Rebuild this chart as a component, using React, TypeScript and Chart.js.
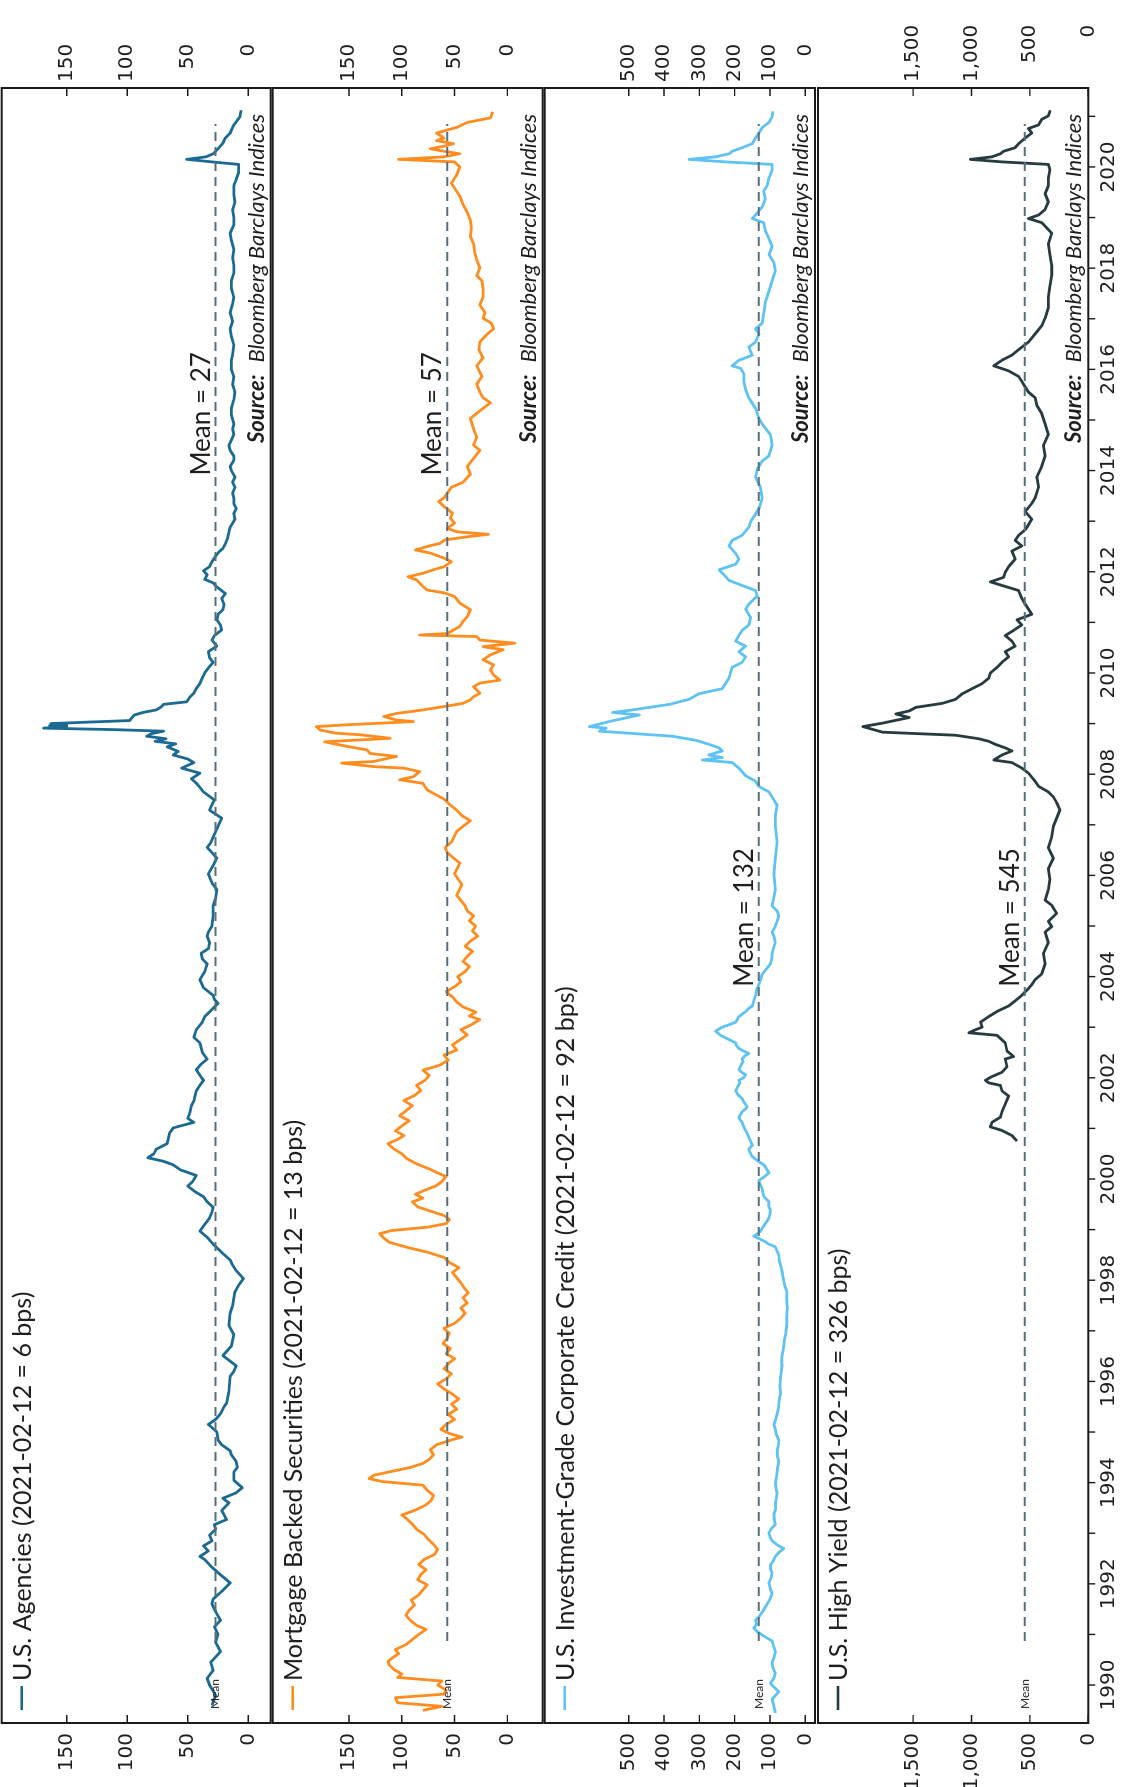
import React, { useEffect, useRef } from "react";
import { Chart, registerables } from "chart.js";

Chart.register(...registerables);

// ---------- DATA (year, spread in bps) ----------
const agencies: [number, number][] = [
  [1989.6, 30], [1989.8, 27], [1990.0, 32], [1990.13, 34], [1990.29, 29], [1990.45, 31], [1990.66, 23], [1990.85, 27],
  [1991.0, 25], [1991.15, 28], [1991.28, 23], [1991.45, 27], [1991.6, 30], [1991.7, 29], [1991.85, 22], [1992.02, 15],
  [1992.2, 24], [1992.35, 31], [1992.48, 36], [1992.54, 40], [1992.65, 33], [1992.75, 37], [1992.85, 30], [1992.96, 32],
  [1993.08, 27], [1993.17, 28], [1993.27, 18], [1993.45, 22], [1993.6, 16], [1993.69, 21], [1993.8, 10], [1993.9, 5],
  [1994.05, 12], [1994.21, 12], [1994.3, 9], [1994.42, 10], [1994.55, 14], [1994.63, 15], [1994.75, 22], [1994.84, 25],
  [1995.0, 26], [1995.15, 33], [1995.25, 27], [1995.36, 23], [1995.5, 20], [1995.57, 18], [1995.8, 16], [1996.1, 15],
  [1996.2, 12], [1996.31, 10], [1996.42, 16], [1996.51, 21], [1996.7, 14], [1996.93, 12], [1997.1, 16], [1997.35, 15],
  [1997.5, 13], [1997.77, 11], [1997.9, 8], [1998.03, 4], [1998.19, 10], [1998.3, 13], [1998.4, 15], [1998.55, 22],
  [1998.71, 29], [1998.85, 34], [1998.97, 40], [1999.1, 36], [1999.23, 32], [1999.35, 30], [1999.44, 29], [1999.55, 34],
  [1999.65, 37], [1999.75, 44], [1999.86, 50], [1999.95, 46], [2000.07, 43], [2000.18, 56], [2000.28, 62], [2000.35, 70],
  [2000.42, 83], [2000.5, 78], [2000.59, 76], [2000.7, 67], [2000.8, 66], [2000.91, 65], [2001.01, 62], [2001.12, 45],
  [2001.2, 50], [2001.33, 48], [2001.45, 47], [2001.54, 45], [2001.65, 44], [2001.74, 43], [2001.85, 40], [2001.95, 37],
  [2002.05, 40], [2002.16, 43], [2002.27, 39], [2002.37, 34], [2002.5, 38], [2002.69, 40], [2002.8, 45], [2002.95, 43],
  [2003.1, 38], [2003.21, 36], [2003.35, 30], [2003.47, 25], [2003.55, 28], [2003.63, 29], [2003.78, 37], [2003.94, 40],
  [2004.1, 36], [2004.25, 34], [2004.35, 38], [2004.46, 39], [2004.55, 33], [2004.67, 32], [2004.8, 34], [2004.88, 33],
  [2005.0, 30], [2005.2, 29], [2005.4, 29], [2005.55, 27], [2005.72, 26], [2005.85, 30], [2006.03, 33], [2006.2, 29],
  [2006.34, 26], [2006.45, 30], [2006.55, 34], [2006.65, 31], [2006.76, 29], [2006.97, 25], [2007.13, 22], [2007.29, 32],
  [2007.4, 30], [2007.49, 28], [2007.65, 37], [2007.8, 42], [2007.91, 47], [2008.02, 40], [2008.12, 55], [2008.23, 45],
  [2008.3, 50], [2008.38, 62], [2008.45, 58], [2008.54, 67], [2008.6, 60], [2008.65, 77], [2008.7, 68], [2008.75, 84],
  [2008.8, 80], [2008.85, 70], [2008.88, 110], [2008.91, 169], [2008.94, 150], [2008.96, 164], [2008.98, 150], [2009.0, 163],
  [2009.02, 142], [2009.06, 98], [2009.12, 96], [2009.17, 94], [2009.22, 87], [2009.27, 76], [2009.33, 72], [2009.38, 70],
  [2009.43, 51], [2009.53, 48], [2009.6, 45], [2009.69, 43], [2009.79, 40], [2009.9, 38], [2010.0, 36], [2010.1, 33],
  [2010.21, 29], [2010.3, 32], [2010.42, 33], [2010.53, 26], [2010.65, 30], [2010.74, 28], [2010.85, 22], [2010.95, 23],
  [2011.05, 26], [2011.16, 25], [2011.25, 21], [2011.36, 20], [2011.47, 22], [2011.57, 19], [2011.7, 26], [2011.78, 29],
  [2011.85, 36], [2011.94, 34], [2012.02, 37], [2012.1, 32], [2012.2, 30], [2012.31, 27], [2012.4, 24], [2012.46, 21],
  [2012.55, 19], [2012.67, 17], [2012.78, 16], [2012.88, 15], [2013.04, 11], [2013.15, 12], [2013.25, 10], [2013.35, 12],
  [2013.46, 12], [2013.55, 13], [2013.67, 11], [2013.77, 13], [2013.87, 11], [2014.0, 14], [2014.08, 15], [2014.2, 12],
  [2014.29, 12], [2014.4, 15], [2014.5, 16], [2014.6, 14], [2014.71, 12], [2014.82, 13], [2014.92, 12], [2015.1, 14],
  [2015.23, 14], [2015.4, 12], [2015.55, 11], [2015.7, 13], [2015.86, 12], [2016.0, 14], [2016.18, 14], [2016.3, 13],
  [2016.49, 12], [2016.65, 14], [2016.8, 15], [2016.95, 13], [2017.12, 15], [2017.3, 13], [2017.43, 12], [2017.6, 14],
  [2017.75, 14], [2017.9, 12], [2018.06, 12], [2018.2, 13], [2018.37, 12], [2018.55, 14], [2018.69, 15], [2018.85, 12],
  [2019.0, 12], [2019.15, 13], [2019.31, 11], [2019.45, 12], [2019.63, 12], [2019.75, 10], [2019.89, 8], [2020.05, 8],
  [2020.1, 30], [2020.15, 51], [2020.2, 35], [2020.26, 29], [2020.36, 25], [2020.47, 21], [2020.57, 19], [2020.67, 15],
  [2020.83, 12], [2020.99, 7], [2021.12, 6],
];

const mbs: [number, number][] = [
  [1989.5, 80], [1989.58, 62], [1989.65, 104], [1989.75, 106], [1989.82, 60], [1989.9, 58], [1990.0, 66], [1990.08, 62],
  [1990.15, 104], [1990.22, 100], [1990.3, 107], [1990.4, 112], [1990.47, 113], [1990.55, 108], [1990.62, 103], [1990.7, 106],
  [1990.8, 96], [1990.9, 90], [1991.0, 84], [1991.1, 77], [1991.18, 86], [1991.28, 92], [1991.38, 96], [1991.48, 93],
  [1991.58, 88], [1991.68, 91], [1991.78, 84], [1991.88, 80], [1991.98, 76], [1992.08, 85], [1992.18, 82], [1992.28, 77],
  [1992.38, 84], [1992.48, 79], [1992.58, 69], [1992.68, 66], [1992.78, 70], [1992.88, 75], [1992.98, 79], [1993.08, 86],
  [1993.18, 90], [1993.28, 95], [1993.36, 100], [1993.45, 88], [1993.55, 78], [1993.65, 72], [1993.75, 70], [1993.85, 76],
  [1993.95, 80], [1994.02, 118], [1994.08, 131], [1994.15, 126], [1994.22, 110], [1994.3, 92], [1994.38, 80], [1994.46, 74],
  [1994.55, 70], [1994.65, 73], [1994.75, 67], [1994.85, 52], [1994.9, 43], [1994.97, 55], [1995.05, 63], [1995.15, 58],
  [1995.25, 50], [1995.35, 56], [1995.45, 48], [1995.55, 53], [1995.65, 46], [1995.75, 52], [1995.85, 60], [1995.95, 66],
  [1996.05, 58], [1996.15, 53], [1996.25, 60], [1996.35, 56], [1996.45, 50], [1996.55, 58], [1996.65, 54], [1996.75, 61],
  [1996.85, 57], [1996.95, 55], [1997.05, 60], [1997.15, 50], [1997.25, 44], [1997.35, 40], [1997.45, 44], [1997.55, 38],
  [1997.65, 42], [1997.75, 37], [1997.85, 41], [1997.95, 44], [1998.05, 48], [1998.15, 52], [1998.25, 46], [1998.35, 55],
  [1998.45, 60], [1998.55, 75], [1998.65, 95], [1998.75, 112], [1998.85, 118], [1998.92, 121], [1998.98, 110], [1999.05, 75],
  [1999.12, 58], [1999.2, 55], [1999.28, 60], [1999.36, 72], [1999.45, 85], [1999.55, 90], [1999.62, 80], [1999.7, 87],
  [1999.78, 78], [1999.86, 68], [1999.95, 62], [2000.05, 58], [2000.12, 66], [2000.2, 74], [2000.3, 86], [2000.4, 95],
  [2000.5, 100], [2000.6, 108], [2000.7, 113], [2000.78, 104], [2000.86, 98], [2000.95, 106], [2001.05, 100], [2001.15, 93],
  [2001.25, 102], [2001.35, 96], [2001.45, 90], [2001.55, 98], [2001.65, 88], [2001.75, 82], [2001.85, 86], [2001.95, 78],
  [2002.05, 74], [2002.15, 80], [2002.25, 64], [2002.35, 56], [2002.45, 60], [2002.55, 48], [2002.65, 52], [2002.75, 45],
  [2002.85, 38], [2002.95, 44], [2003.05, 34], [2003.15, 26], [2003.22, 36], [2003.3, 30], [2003.4, 42], [2003.5, 48],
  [2003.6, 52], [2003.7, 58], [2003.8, 50], [2003.9, 44], [2004.0, 47], [2004.1, 40], [2004.2, 36], [2004.3, 42],
  [2004.4, 38], [2004.5, 33], [2004.6, 40], [2004.7, 35], [2004.8, 28], [2004.9, 33], [2005.0, 30], [2005.1, 36],
  [2005.2, 32], [2005.3, 38], [2005.4, 40], [2005.61, 48], [2005.82, 43], [2006.03, 50], [2006.24, 45], [2006.45, 57],
  [2006.55, 59], [2006.66, 53], [2006.87, 48], [2006.97, 42], [2007.08, 35], [2007.18, 43], [2007.29, 48], [2007.39, 54],
  [2007.49, 59], [2007.52, 61], [2007.69, 76], [2007.82, 80], [2007.89, 102], [2007.95, 89], [2008.05, 83], [2008.12, 98],
  [2008.15, 127], [2008.22, 157], [2008.25, 127], [2008.35, 105], [2008.41, 130], [2008.48, 133], [2008.55, 152], [2008.64, 173],
  [2008.71, 111], [2008.78, 140], [2008.81, 162], [2008.87, 177], [2008.94, 181], [2008.97, 158], [2009.04, 89], [2009.07, 105],
  [2009.14, 117], [2009.2, 105], [2009.27, 80], [2009.34, 59], [2009.4, 42], [2009.47, 35], [2009.53, 32], [2009.6, 26],
  [2009.73, 32], [2009.8, 26], [2009.86, 7], [2009.96, 13], [2010.06, 16], [2010.16, 13], [2010.26, 23], [2010.36, 16],
  [2010.46, 4], [2010.52, 23], [2010.59, -7], [2010.65, 26], [2010.72, 29], [2010.75, 83], [2010.78, 57], [2010.85, 51],
  [2010.92, 45], [2011.02, 42], [2011.11, 38], [2011.25, 35], [2011.38, 45], [2011.51, 50], [2011.58, 59], [2011.64, 76],
  [2011.71, 80], [2011.84, 86], [2011.9, 94], [2011.97, 80], [2012.04, 70], [2012.1, 60], [2012.2, 53], [2012.27, 60],
  [2012.37, 73], [2012.43, 87], [2012.5, 76], [2012.56, 64], [2012.63, 59], [2012.7, 35], [2012.74, 18], [2012.79, 48],
  [2012.86, 57], [2012.96, 50], [2013.06, 54], [2013.16, 52], [2013.29, 60], [2013.39, 65], [2013.46, 60], [2013.67, 53],
  [2013.77, 42], [2013.93, 35], [2014.08, 38], [2014.24, 32], [2014.4, 26], [2014.5, 32], [2014.66, 29], [2014.82, 32],
  [2015.03, 35], [2015.23, 23], [2015.34, 16], [2015.44, 23], [2015.55, 26], [2015.71, 29], [2015.86, 24], [2016.07, 29],
  [2016.23, 23], [2016.39, 27], [2016.54, 26], [2016.7, 19], [2016.8, 13], [2016.91, 15], [2017.01, 23], [2017.12, 21],
  [2017.27, 26], [2017.43, 23], [2017.59, 23], [2017.75, 24], [2017.85, 29], [2018.01, 26], [2018.16, 29], [2018.32, 31],
  [2018.48, 32], [2018.63, 35], [2018.79, 34], [2018.95, 35], [2019.1, 38], [2019.26, 42], [2019.42, 45], [2019.58, 50],
  [2019.68, 53], [2019.84, 48], [2020.0, 45], [2020.1, 50], [2020.15, 103], [2020.2, 60], [2020.26, 45], [2020.31, 60],
  [2020.36, 73], [2020.41, 60], [2020.46, 51], [2020.52, 67], [2020.57, 60], [2020.67, 67], [2020.73, 57], [2020.78, 48],
  [2020.88, 38], [2020.97, 16], [2021.09, 14],
];

const igCredit: [number, number][] = [
  [1989.45, 85], [1989.6, 90], [1989.72, 94], [1989.87, 75], [1990.03, 99], [1990.15, 88], [1990.24, 85], [1990.35, 92],
  [1990.45, 94], [1990.55, 88], [1990.66, 85], [1990.78, 90], [1990.87, 94], [1990.97, 118], [1991.05, 135], [1991.13, 146],
  [1991.2, 138], [1991.28, 141], [1991.36, 130], [1991.44, 122], [1991.52, 115], [1991.6, 108], [1991.7, 100], [1991.81, 94],
  [1991.9, 99], [1992.02, 103], [1992.12, 97], [1992.23, 94], [1992.3, 99], [1992.38, 98], [1992.46, 90], [1992.54, 85],
  [1992.62, 75], [1992.7, 61], [1992.77, 80], [1992.85, 94], [1992.93, 100], [1993.01, 103], [1993.1, 95], [1993.17, 85],
  [1993.28, 88], [1993.38, 89], [1993.48, 84], [1993.59, 85], [1993.7, 82], [1993.79, 80], [1993.9, 83], [1994.0, 85],
  [1994.1, 82], [1994.21, 80], [1994.32, 78], [1994.42, 75], [1994.52, 79], [1994.63, 80], [1994.74, 76], [1994.84, 75],
  [1994.95, 82], [1995.05, 85], [1995.15, 89], [1995.25, 84], [1995.36, 80], [1995.46, 76], [1995.57, 75], [1995.68, 73],
  [1995.78, 70], [1995.9, 72], [1996.1, 70], [1996.2, 68], [1996.31, 66], [1996.41, 67], [1996.51, 66], [1996.62, 63],
  [1996.72, 61], [1996.82, 59], [1996.93, 56], [1997.04, 54], [1997.14, 52], [1997.25, 53], [1997.35, 52], [1997.46, 51],
  [1997.56, 52], [1997.66, 53], [1997.77, 52], [1997.88, 58], [1997.98, 61], [1998.1, 64], [1998.19, 66], [1998.29, 70],
  [1998.4, 74], [1998.5, 75], [1998.58, 80], [1998.66, 85], [1998.72, 105], [1998.76, 113], [1998.82, 130], [1998.87, 146],
  [1998.92, 135], [1998.97, 127], [1999.03, 122], [1999.08, 117], [1999.15, 110], [1999.23, 103], [1999.31, 100], [1999.39, 99],
  [1999.47, 104], [1999.55, 103], [1999.6, 110], [1999.65, 117], [1999.73, 120], [1999.81, 122], [1999.9, 128], [1999.97, 132],
  [2000.05, 115], [2000.12, 103], [2000.2, 110], [2000.28, 117], [2000.36, 135], [2000.44, 150], [2000.52, 156], [2000.59, 160],
  [2000.67, 150], [2000.75, 155], [2000.83, 160], [2000.91, 165], [2001.0, 172], [2001.06, 176], [2001.12, 179], [2001.17, 185],
  [2001.22, 188], [2001.28, 183], [2001.33, 179], [2001.38, 170], [2001.43, 165], [2001.5, 172], [2001.59, 179], [2001.66, 190],
  [2001.74, 197], [2001.82, 192], [2001.9, 185], [2001.95, 188], [2002.0, 175], [2002.06, 169], [2002.11, 180], [2002.16, 188],
  [2002.25, 182], [2002.32, 176], [2002.37, 179], [2002.43, 172], [2002.48, 160], [2002.53, 175], [2002.58, 188], [2002.64, 195],
  [2002.69, 197], [2002.77, 220], [2002.84, 240], [2002.92, 254], [2002.96, 245], [2003.0, 235], [2003.05, 215], [2003.1, 197],
  [2003.16, 192], [2003.21, 188], [2003.26, 178], [2003.31, 169], [2003.37, 160], [2003.42, 150], [2003.52, 146], [2003.63, 141],
  [2003.74, 138], [2003.84, 132], [2003.95, 126], [2004.05, 122], [2004.15, 110], [2004.25, 99], [2004.35, 95], [2004.46, 94],
  [2004.56, 90], [2004.67, 85], [2004.78, 88], [2004.88, 94], [2004.98, 86], [2005.09, 80], [2005.2, 75], [2005.3, 80],
  [2005.4, 94], [2005.72, 85], [2006.03, 89], [2006.34, 85], [2006.66, 80], [2006.97, 85], [2007.18, 85], [2007.39, 80],
  [2007.55, 94], [2007.65, 103], [2007.76, 132], [2007.86, 141], [2007.97, 169], [2008.12, 188], [2008.23, 207], [2008.28, 291],
  [2008.33, 235], [2008.38, 273], [2008.46, 235], [2008.52, 244], [2008.59, 273], [2008.67, 310], [2008.75, 376], [2008.85, 583],
  [2008.91, 564], [2008.94, 611], [2009.04, 555], [2009.17, 470], [2009.22, 545], [2009.27, 489], [2009.38, 385], [2009.48, 329],
  [2009.59, 301], [2009.69, 235], [2009.79, 226], [2009.9, 216], [2010.11, 207], [2010.21, 179], [2010.32, 169], [2010.42, 188],
  [2010.53, 169], [2010.63, 197], [2010.74, 188], [2010.84, 179], [2010.95, 160], [2011.1, 155], [2011.26, 169], [2011.36, 160],
  [2011.52, 136], [2011.63, 141], [2011.73, 179], [2011.83, 216], [2011.94, 230], [2012.04, 244], [2012.15, 197], [2012.25, 188],
  [2012.36, 197], [2012.51, 216], [2012.62, 207], [2012.72, 179], [2012.88, 160], [2012.99, 155], [2013.14, 141], [2013.25, 131],
  [2013.46, 122], [2013.67, 127], [2013.87, 141], [2014.03, 136], [2014.19, 122], [2014.29, 103], [2014.5, 94], [2014.71, 99],
  [2014.92, 122], [2015.03, 131], [2015.23, 141], [2015.44, 160], [2015.6, 169], [2015.76, 174], [2015.91, 174], [2016.02, 183],
  [2016.07, 207], [2016.18, 188], [2016.28, 150], [2016.44, 160], [2016.54, 141], [2016.7, 131], [2016.8, 141], [2016.91, 122],
  [2017.12, 117], [2017.33, 113], [2017.54, 103], [2017.75, 94], [2017.95, 85], [2018.11, 89], [2018.27, 103], [2018.43, 94],
  [2018.58, 103], [2018.74, 113], [2018.9, 118], [2018.98, 150], [2019.05, 141], [2019.21, 122], [2019.37, 113], [2019.52, 118],
  [2019.63, 108], [2019.78, 103], [2019.94, 94], [2020.05, 94], [2020.1, 226], [2020.15, 329], [2020.2, 254], [2020.26, 216],
  [2020.31, 207], [2020.38, 179], [2020.46, 150], [2020.57, 141], [2020.67, 131], [2020.78, 122], [2020.88, 103], [2020.99, 94],
  [2021.1, 92],
];

const highYield: [number, number][] = [
  [2000.75, 611], [2000.86, 654], [2000.96, 739], [2001.03, 838], [2001.12, 824], [2001.22, 753], [2001.33, 739], [2001.48, 711],
  [2001.64, 682], [2001.74, 739], [2001.85, 753], [2001.9, 852], [2001.95, 881], [2002.01, 838], [2002.11, 739], [2002.22, 696],
  [2002.37, 711], [2002.42, 640], [2002.53, 696], [2002.69, 711], [2002.84, 782], [2002.89, 1023], [2002.95, 966], [2003.0, 909],
  [2003.1, 923], [2003.21, 852], [2003.31, 782], [2003.42, 682], [2003.52, 626], [2003.63, 569], [2003.73, 526], [2003.84, 484],
  [2003.94, 455], [2004.05, 399], [2004.25, 370], [2004.46, 384], [2004.67, 342], [2004.88, 370], [2004.99, 313], [2005.09, 342],
  [2005.25, 271], [2005.41, 313], [2005.51, 370], [2005.72, 342], [2005.92, 328], [2006.13, 342], [2006.34, 299], [2006.55, 342],
  [2006.76, 313], [2006.97, 299], [2007.13, 271], [2007.29, 243], [2007.44, 271], [2007.55, 299], [2007.65, 342], [2007.76, 426],
  [2007.86, 455], [2008.02, 512], [2008.12, 569], [2008.23, 654], [2008.28, 809], [2008.38, 739], [2008.46, 654], [2008.52, 711],
  [2008.59, 796], [2008.65, 852], [2008.7, 937], [2008.77, 1136], [2008.83, 1760], [2008.94, 1930], [2009.01, 1760], [2009.12, 1533],
  [2009.19, 1647], [2009.25, 1533], [2009.32, 1477], [2009.4, 1249], [2009.48, 1136], [2009.59, 1079], [2009.69, 994], [2009.79, 909],
  [2009.9, 852], [2010.0, 838], [2010.11, 782], [2010.21, 739], [2010.32, 682], [2010.42, 711], [2010.53, 626], [2010.63, 654],
  [2010.74, 711], [2010.84, 640], [2010.95, 569], [2011.05, 611], [2011.16, 484], [2011.26, 512], [2011.36, 540], [2011.47, 569],
  [2011.63, 597], [2011.73, 739], [2011.8, 838], [2011.89, 725], [2011.99, 711], [2012.1, 682], [2012.25, 626], [2012.41, 654],
  [2012.51, 569], [2012.62, 626], [2012.72, 597], [2012.83, 540], [2012.93, 512], [2013.04, 484], [2013.19, 540], [2013.35, 484],
  [2013.46, 455], [2013.67, 426], [2013.87, 441], [2014.08, 399], [2014.29, 370], [2014.5, 384], [2014.71, 342], [2014.92, 370],
  [2015.13, 399], [2015.29, 441], [2015.44, 455], [2015.55, 512], [2015.65, 540], [2015.76, 569], [2015.86, 597], [2015.97, 682],
  [2016.07, 809], [2016.18, 739], [2016.28, 654], [2016.39, 597], [2016.54, 512], [2016.7, 455], [2016.86, 399], [2017.01, 370],
  [2017.22, 342], [2017.43, 342], [2017.64, 328], [2017.85, 313], [2018.06, 313], [2018.27, 328], [2018.48, 342], [2018.69, 313],
  [2018.9, 399], [2018.98, 512], [2019.05, 426], [2019.16, 370], [2019.31, 342], [2019.47, 370], [2019.63, 342], [2019.78, 342],
  [2019.94, 328], [2020.05, 342], [2020.1, 739], [2020.15, 1009], [2020.2, 825], [2020.26, 753], [2020.31, 725], [2020.38, 626],
  [2020.46, 597], [2020.57, 540], [2020.67, 484], [2020.76, 512], [2020.83, 426], [2020.94, 399], [2021.01, 342], [2021.12, 326],
];

const seriesList = [agencies, mbs, igCredit, highYield];
const seriesTitles = [
  "U.S. Agencies (2021-02-12 = 6 bps)",
  "Mortgage Backed Securities (2021-02-12 = 13 bps)",
  "U.S. Investment-Grade Corporate Credit (2021-02-12 = 92 bps)",
  "U.S. High Yield (2021-02-12 = 326 bps)",
];
const seriesMeans = [27, 57, 132, 545];
const yTickValues = [
  [0, 50, 100, 150],
  [0, 50, 100, 150],
  [0, 100, 200, 300, 400, 500],
  [0, 500, 1000, 1500],
];
const yRanges = [
  [-18.5, 203.7],
  [-33.5, 222.3],
  [-27.4, 737.7],
  [0, 2314],
];
const meanLabelYears = [2013.9, 2013.9, 2003.8, 2003.8];
const meanLineStart = 1990.87;
const meanLineEnd = 2020.85;
const yearTickLabels = [1990, 1992, 1994, 1996, 1998, 2000, 2002, 2004, 2006, 2008, 2010, 2012, 2014, 2016, 2018, 2020];
const xMin = 1989.25;
const xMax = 2021.56;
const sourceText = "Bloomberg Barclays Indices";

// ---------- STYLE / LAYOUT ----------
const W = 1787;
const H = 1125;
const PAD_LEFT = 64;
const PAD_RIGHT = 88;
const panelBoxes = [
  [1.7, 270.7],
  [272.7, 542.7],
  [544.7, 815],
  [818, 1088.3],
];
const seriesColors = ["#1b6a93", "#ff8c1e", "#5ec2f2", "#263b40"];
const meanColor = "#55707b";
const TEXT = "#1e1e1e";
const TICK_FONT = '20px "DejaVu Sans"';

const fmt = (v: number) => v.toLocaleString("en-US");

function makePanelPlugin(i: number) {
  return {
    id: "panelDecor" + i,
    afterDraw(chart: any) {
      const ctx: CanvasRenderingContext2D = chart.ctx;
      const { left, right, top, bottom } = chart.chartArea;
      const ys = chart.scales.y;
      const xs = chart.scales.x;
      ctx.save();

      // border
      ctx.strokeStyle = "#1a1a1a";
      ctx.lineWidth = 2;
      ctx.strokeRect(left, top, right - left, bottom - top);

      // y ticks (inward) and labels on both sides
      ctx.lineWidth = 1.4;
      ctx.font = TICK_FONT;
      ctx.fillStyle = TEXT;
      ctx.textBaseline = "middle";
      const ticks = yTickValues[i];
      let widest = 0;
      ticks.forEach((v) => {
        widest = Math.max(widest, ctx.measureText(fmt(v)).width);
      });
      ticks.forEach((v) => {
        const y = ys.getPixelForValue(v);
        ctx.beginPath();
        ctx.moveTo(left, y);
        ctx.lineTo(left + 8, y);
        ctx.moveTo(right, y);
        ctx.lineTo(right - 8, y);
        ctx.stroke();
        ctx.textAlign = "right";
        ctx.fillText(fmt(v), left - 10, y);
        ctx.fillText(fmt(v), right + 6 + widest, y);
      });

      // legend
      ctx.strokeStyle = seriesColors[i];
      ctx.lineWidth = 2.6;
      ctx.beginPath();
      ctx.moveTo(77, top + 20);
      ctx.lineTo(101, top + 20);
      ctx.stroke();
      ctx.font = '25px Lato';
      ctx.textAlign = "left";
      ctx.textBaseline = "middle";
      ctx.fillStyle = TEXT;
      ctx.fillText(seriesTitles[i], 106, top + 21);

      // source
      ctx.textBaseline = "alphabetic";
      ctx.font = 'italic 22px Lato';
      const srcW = ctx.measureText(sourceText).width;
      const srcRight = 1673;
      ctx.textAlign = "right";
      ctx.fillText(sourceText, srcRight, bottom - 7);
      ctx.font = 'italic bold 22px Lato';
      ctx.fillText("Source:", srcRight - srcW - 12, bottom - 7);

      // mean labels
      const my = ys.getPixelForValue(seriesMeans[i]);
      ctx.font = '26px Lato';
      ctx.textAlign = "left";
      ctx.fillText("Mean = " + seriesMeans[i], xs.getPixelForValue(meanLabelYears[i]), my - 6);
      ctx.font = '12px Lato';
      ctx.textBaseline = "middle";
      ctx.fillText("Mean", 78, my);

      // x axis ticks/labels on the last panel
      if (i === seriesList.length - 1) {
        ctx.strokeStyle = "#1a1a1a";
        ctx.lineWidth = 1.4;
        for (let yr = Math.ceil(xMin); yr <= Math.floor(xMax); yr++) {
          const x = xs.getPixelForValue(yr);
          ctx.beginPath();
          ctx.moveTo(x, bottom);
          ctx.lineTo(x, bottom + 7);
          ctx.stroke();
        }
        ctx.font = TICK_FONT;
        ctx.textAlign = "center";
        ctx.textBaseline = "top";
        yearTickLabels.forEach((yr) => {
          ctx.fillText(String(yr), xs.getPixelForValue(yr), bottom + 10);
        });
      }
      ctx.restore();
    },
  };
}

function Panel({ index }: { index: number }) {
  const ref = useRef<HTMLCanvasElement | null>(null);
  useEffect(() => {
    if (!ref.current) return;
    const pts = seriesList[index].map(([x, y]) => ({ x, y }));
    const meanPts = [
      { x: meanLineStart, y: seriesMeans[index] },
      { x: meanLineEnd, y: seriesMeans[index] },
    ];
    const [t, b] = panelBoxes[index];
    const chart = new Chart(ref.current, {
      type: "line",
      data: {
        datasets: [
          {
            data: meanPts,
            borderColor: meanColor,
            borderWidth: 2,
            borderDash: [9, 6],
            pointRadius: 0,
            fill: false,
          },
          {
            data: pts,
            borderColor: seriesColors[index],
            borderWidth: 2.8,
            pointRadius: 0,
            fill: false,
            tension: 0,
            borderJoinStyle: "round",
          },
        ],
      },
      options: {
        responsive: false,
        maintainAspectRatio: false,
        animation: false,
        devicePixelRatio: 1,
        events: [],
        layout: { padding: { left: PAD_LEFT, right: PAD_RIGHT, top: t, bottom: H - b } },
        scales: {
          x: { type: "linear", min: xMin, max: xMax, display: false },
          y: { type: "linear", min: yRanges[index][0], max: yRanges[index][1], display: false },
        },
        plugins: { legend: { display: false }, tooltip: { enabled: false } },
      },
      plugins: [makePanelPlugin(index)],
    } as any);
    return () => chart.destroy();
  }, [index]);
  return (
    <canvas
      ref={ref}
      width={W}
      height={H}
      style={{ position: "absolute", left: 0, top: 0, width: W, height: H }}
    />
  );
}

export default function App() {
  useEffect(() => {
    document.body.style.margin = "0";
    document.body.style.overflow = "hidden";
  }, []);
  return (
    <div
      style={{
        position: "absolute",
        left: 0,
        top: 0,
        width: W,
        height: H,
        background: "#ffffff",
        transformOrigin: "0 0",
        transform: `translateY(${W}px) rotate(-90deg)`,
      }}
    >
      {seriesList.map((_, i) => (
        <Panel key={i} index={i} />
      ))}
    </div>
  );
}
